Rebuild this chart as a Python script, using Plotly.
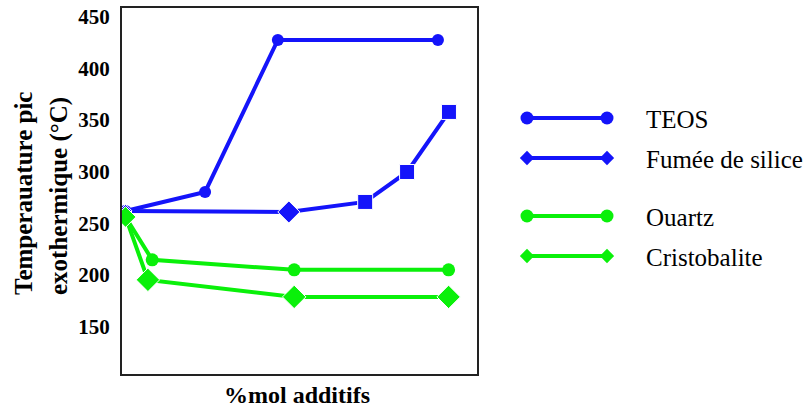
import plotly.graph_objects as go

# ---- data ----
teos_x = [0.1, 2.34, 4.39, 8.9]
teos_y = [262, 280.4, 427.5, 427.5]

fumee_x = [0.1, 4.7, 6.85, 8.03, 9.21]
fumee_y = [262, 261, 270.7, 299.7, 357.8]
fumee_symbols = ["diamond", "diamond", "square", "square", "square"]

quartz_x = [0.1, 0.85, 4.85, 9.2]
quartz_y = [256.2, 214.7, 205, 205]

cristo_x = [0.1, 0.73, 4.85, 9.2]
cristo_y = [256.2, 195.3, 178.8, 178.8]

y_ticks = [150, 200, 250, 300, 350, 400, 450]
series_names = ["TEOS", "Fumée de silice", "Ouartz", "Cristobalite"]

BLUE = "rgb(20,20,250)"
GREEN = "rgb(10,240,10)"
FONT = "Liberation Serif"

fig = go.Figure()

fig.add_trace(go.Scatter(x=teos_x, y=teos_y, mode="lines+markers",
                         line=dict(color=BLUE, width=4),
                         marker=dict(symbol="circle", size=12, color=BLUE, opacity=1),
                         showlegend=False))
fig.add_trace(go.Scatter(x=fumee_x, y=fumee_y, mode="lines+markers",
                         line=dict(color=BLUE, width=4),
                         marker=dict(symbol=fumee_symbols, size=[10, 17, 15, 15, 15],
                                     color=BLUE, opacity=1),
                         showlegend=False))
fig.add_trace(go.Scatter(x=quartz_x, y=quartz_y, mode="lines+markers",
                         line=dict(color=GREEN, width=4),
                         marker=dict(symbol="circle", size=13, color=GREEN, opacity=1),
                         showlegend=False))
fig.add_trace(go.Scatter(x=cristo_x, y=cristo_y, mode="lines+markers",
                         line=dict(color=GREEN, width=4),
                         marker=dict(symbol="diamond", size=[16, 18, 18, 18], color=GREEN,
                                     opacity=1),
                         showlegend=False))

# ---- hand-made legend (line with a marker at each end) ----
legend_rows = [118, 158, 216, 256]          # pixel rows on the legend axis
legend_colors = [BLUE, BLUE, GREEN, GREEN]
legend_symbols = ["circle", "diamond", "circle", "diamond"]
legend_sizes = [13, 11, 13, 11]
for name, row, col, sym, sz in zip(series_names, legend_rows, legend_colors,
                                   legend_symbols, legend_sizes):
    fig.add_trace(go.Scatter(x=[0, 1], y=[row, row], mode="lines+markers",
                             xaxis="x2", yaxis="y2", cliponaxis=False,
                             line=dict(color=col, width=4),
                             marker=dict(symbol=sym, size=sz, color=col),
                             showlegend=False, hoverinfo="skip"))
    fig.add_annotation(text=name, xref="paper", yref="y2",
                       x=(644 - 122) / 668, y=row + 1, xanchor="left", yanchor="middle",
                       showarrow=False,
                       font=dict(family=FONT, size=25, color="black"))

# ---- axis titles ----
fig.add_annotation(text="<b>Temperauature pic</b>", xref="paper", yref="paper",
                   x=(23 - 122) / 668, y=(374 - 194) / 366, textangle=-90,
                   xanchor="center", yanchor="middle", showarrow=False,
                   font=dict(family=FONT, size=25, color="black"))
fig.add_annotation(text="<b>exothermique (°C)</b>", xref="paper", yref="paper",
                   x=(59 - 122) / 668, y=(374 - 196) / 366, textangle=-90,
                   xanchor="center", yanchor="middle", showarrow=False,
                   font=dict(family=FONT, size=25, color="black"))
fig.add_annotation(text="<b>%mol additifs</b>", xref="paper", yref="paper",
                   x=(297 - 122) / 668, y=(374 - 395) / 366,
                   xanchor="center", yanchor="middle", showarrow=False,
                   font=dict(family=FONT, size=24, color="black"))

fig.update_layout(
    width=812, height=412,
    margin=dict(l=122, r=22, t=8, b=38, autoexpand=False),
    paper_bgcolor="white", plot_bgcolor="white",
    xaxis=dict(domain=[0, 355 / 668], range=[0, 10], showgrid=False, zeroline=False,
               showticklabels=False, ticks="", showline=True, linecolor="#222",
               linewidth=2, mirror=True, automargin=False),
    yaxis=dict(range=[104.2, 458.4], tickvals=y_ticks, showgrid=False, zeroline=False,
               ticks="", showline=True, linecolor="#222", linewidth=2, mirror=True,
               ticklabelstandoff=6, automargin=False,
               tickfont=dict(family=FONT, size=21, color="black", weight="bold")),
    xaxis2=dict(domain=[(527 - 122) / 668, (607 - 122) / 668], range=[0, 1],
                visible=False, anchor="y2", automargin=False),
    yaxis2=dict(domain=[0, 1], range=[374, 8], visible=False, anchor="x2",
                automargin=False),
    showlegend=False,
)

fig.write_html(
    "out.html",
    config={"displayModeBar": False},
    post_script="document.body.style.margin='0';document.body.style.overflow='hidden';",
)
